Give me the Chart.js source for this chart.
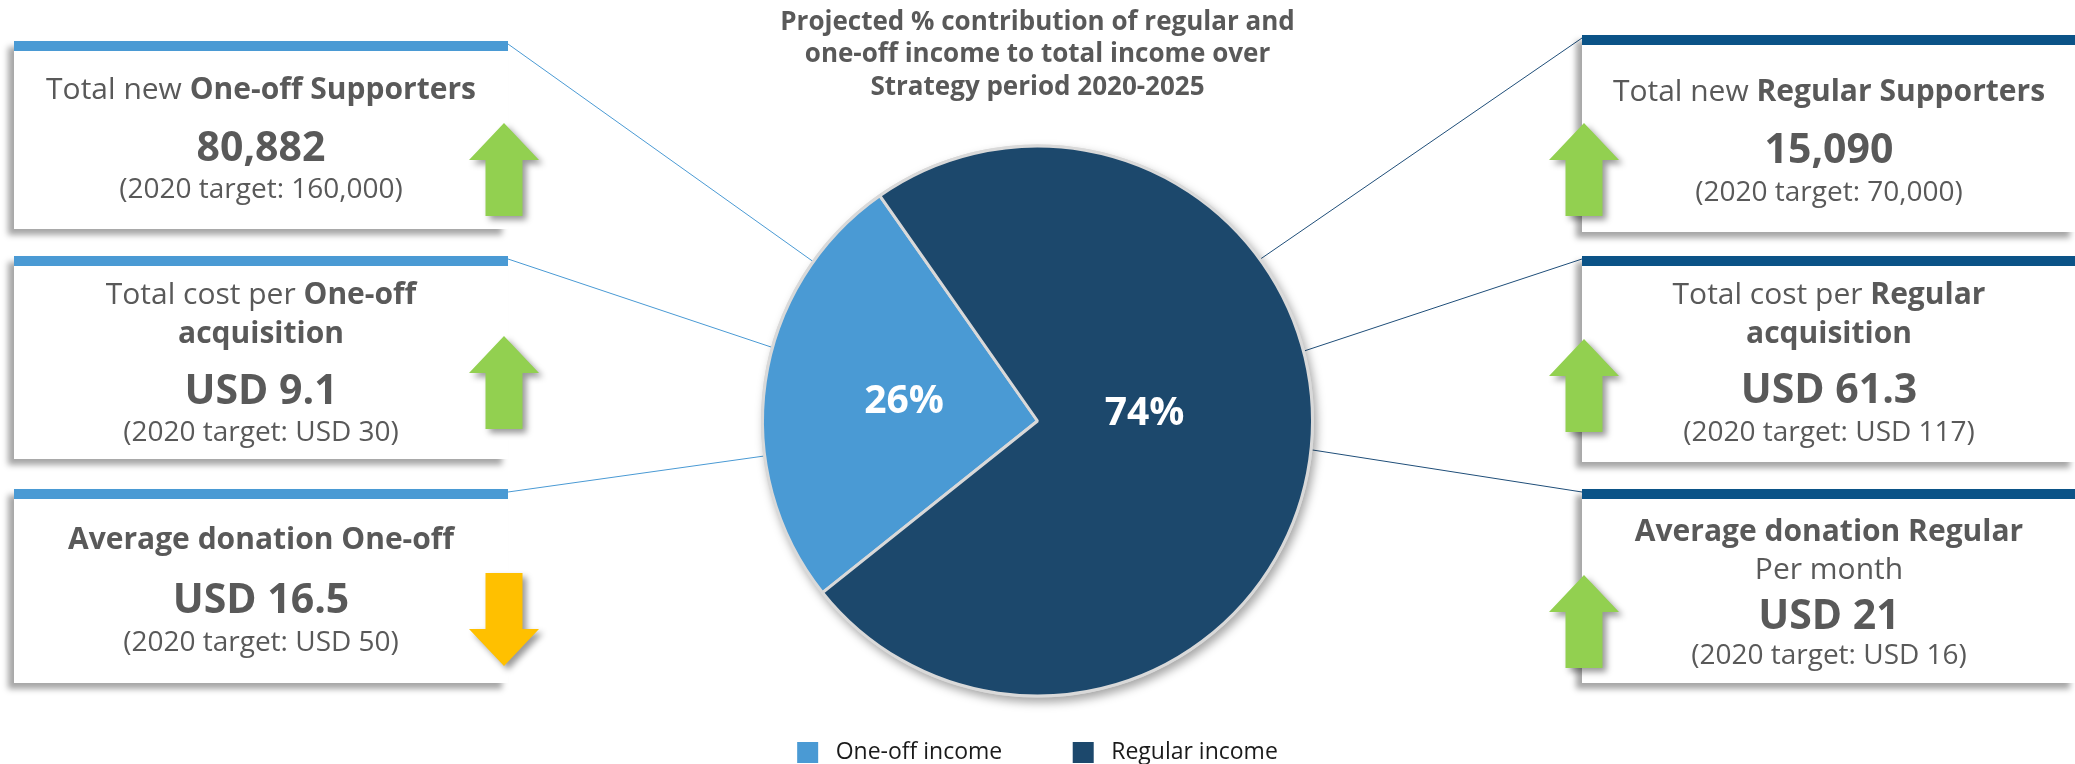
<!DOCTYPE html>
<html>
<head>
<meta charset="utf-8">
<script src="https://cdn.jsdelivr.net/npm/chart.js@4.4.0/dist/chart.umd.min.js"></script>
<style>
html, body { margin: 0; padding: 0; background: #fff; }
#wrap { position: relative; width: 2075px; height: 764px; overflow: hidden; font-family: "Open Sans", sans-serif; color: #595959; }
#myChart { position: absolute; left: 0; top: 0; }
.kpi { position: absolute; background: #fff; box-shadow: -6px 6px 6px rgba(0,0,0,0.35); }
.kpi .bar { position: absolute; left: 0; top: 0; right: 0; height: 10px; }
.kpi .ln { position: absolute; left: 0; right: 0; text-align: center; white-space: nowrap; transform: translateY(-50%); }
.t { font-size: 30px; line-height: 36px; }
.v { font-size: 41px; font-weight: 700; line-height: 48px; }
.g { font-size: 28px; line-height: 34px; }
b { font-weight: 700; }
.arrow { position: absolute; filter: drop-shadow(4px 4px 3px rgba(0,0,0,0.4)); }
</style>
</head>
<body>
<div id="wrap">
  <canvas id="myChart" width="2075" height="774"></canvas>
</div>
<script>
// pie data
const categories = ['One-off income', 'Regular income'];
const shares = [26, 74];
const titleLines = [
    'Projected % contribution of regular and',
    'one-off income to total income over',
    'Strategy period 2020-2025'
];

// KPI boxes: [regular part, bold part] per line
const kpiTitles = [
    [['Total new ', 'One-off Supporters']],
    [['Total cost per ', 'One-off'], ['', 'acquisition']],
    [['', 'Average donation One-off']],
    [['Total new ', 'Regular Supporters']],
    [['Total cost per ', 'Regular'], ['', 'acquisition']],
    [['', 'Average donation Regular'], ['Per month', '']]
];
const kpiValues = ['80,882', 'USD 9.1', 'USD 16.5', '15,090', 'USD 61.3', 'USD 21'];
const kpiTargets = ['160,000', 'USD 30', 'USD 50', '70,000', 'USD 117', 'USD 16'];
const kpiTrend = ['up', 'up', 'down', 'up', 'up', 'up'];

// layout
const sliceColors = ['#4a9ad4', '#1c486c'];
const leftBar = '#4a9ad4';
const rightBar = '#0b5387';
const boxes = [
    { x: 14, y: 41, w: 494, h: 188, lines: [47, 104, 146], angle: 305.4, arrowTop: 123 },
    { x: 14, y: 256, w: 494, h: 203, lines: [37, 76, 132, 174], angle: 285.5, arrowTop: 336 },
    { x: 14, y: 489, w: 494, h: 194, lines: [49, 108, 151], angle: 262.7, arrowTop: 573 },
    { x: 1582, y: 35, w: 494, h: 197, lines: [55, 112, 155], angle: 54, arrowTop: 123 },
    { x: 1582, y: 256, w: 494, h: 206, lines: [37, 76, 131, 174], angle: 75.3, arrowTop: 339 },
    { x: 1582, y: 489, w: 494, h: 194, lines: [41, 79, 124, 164], angle: 96, arrowTop: 575 }
];
const labelPos = [{ r: 0.49, turn: 0 }, { r: 0.39, turn: -12 }];

const wrap = document.getElementById('wrap');
const upArrow = '35,0 70,37 53.5,37 53.5,93 16.5,93 16.5,37 0,37';
const downArrow = '16.5,0 53.5,0 53.5,56 70,56 35,93 0,56 16.5,56';

boxes.forEach((b, i) => {
    const isLeft = b.x < 1000;
    const el = document.createElement('div');
    el.className = 'kpi';
    el.style.cssText = `left:${b.x}px;top:${b.y}px;width:${b.w}px;height:${b.h}px`;
    const rows = [];
    kpiTitles[i].forEach(seg => {
        rows.push({ cls: 't', html: seg[0] + (seg[1] ? '<b>' + seg[1] + '</b>' : '') });
    });
    rows.push({ cls: 'v', html: kpiValues[i] });
    rows.push({ cls: 'g', html: '(2020 target: ' + kpiTargets[i] + ')' });
    let html = `<div class="bar" style="background:${isLeft ? leftBar : rightBar}"></div>`;
    rows.forEach((r, k) => {
        html += `<div class="ln ${r.cls}" style="top:${b.lines[k]}px">${r.html}</div>`;
    });
    el.innerHTML = html;
    wrap.appendChild(el);

    const ax = isLeft ? b.x + b.w - 39 : b.x - 33;
    const up = kpiTrend[i] === 'up';
    const svg = document.createElementNS('http://www.w3.org/2000/svg', 'svg');
    svg.setAttribute('class', 'arrow');
    svg.setAttribute('width', 70);
    svg.setAttribute('height', 93);
    svg.style.left = ax + 'px';
    svg.style.top = b.arrowTop + 'px';
    svg.innerHTML = `<polygon points="${up ? upArrow : downArrow}" fill="${up ? '#92d050' : '#ffc000'}"/>`;
    wrap.appendChild(svg);
});

function toCanvasAngle(deg) {
    return (deg - 90) * Math.PI / 180;
}

const connectorPlugin = {
    id: 'connectors',
    beforeDatasetsDraw(chart) {
        const arc = chart.getDatasetMeta(0).data[0];
        const c = chart.ctx;
        c.save();
        c.lineWidth = 1;
        boxes.forEach(b => {
            const isLeft = b.x < 1000;
            const sx = isLeft ? b.x + b.w : b.x;
            const sy = b.y + 3;
            const a = toCanvasAngle(b.angle);
            c.strokeStyle = isLeft ? '#4a9ad4' : '#1f4e79';
            c.beginPath();
            c.moveTo(sx, sy);
            c.lineTo(arc.x + Math.cos(a) * arc.outerRadius, arc.y + Math.sin(a) * arc.outerRadius);
            c.stroke();
        });
        c.restore();
    }
};

const shadowPlugin = {
    id: 'pieShadow',
    beforeDatasetsDraw(chart) {
        const arc = chart.getDatasetMeta(0).data[0];
        const c = chart.ctx;
        c.save();
        c.shadowColor = 'rgba(0,0,0,0.35)';
        c.shadowBlur = 10;
        c.shadowOffsetX = 3;
        c.shadowOffsetY = 5;
        c.fillStyle = '#d9d9d9';
        c.beginPath();
        c.arc(arc.x, arc.y, arc.outerRadius + 1.5, 0, Math.PI * 2);
        c.fill();
        c.restore();
    }
};

const labelPlugin = {
    id: 'sliceLabels',
    afterDatasetsDraw(chart) {
        const c = chart.ctx;
        const meta = chart.getDatasetMeta(0);
        c.save();
        c.fillStyle = '#ffffff';
        c.font = 'bold 39px "Open Sans"';
        c.textAlign = 'center';
        c.textBaseline = 'middle';
        meta.data.forEach((arc, i) => {
            const mid = (arc.startAngle + arc.endAngle) / 2 + labelPos[i].turn * Math.PI / 180;
            const r = arc.outerRadius * labelPos[i].r;
            c.fillText(shares[i] + '%', arc.x + Math.cos(mid) * r, arc.y + Math.sin(mid) * r);
        });
        c.restore();
    }
};

const ctx = document.getElementById('myChart').getContext('2d');
const baseLabels = Chart.overrides.doughnut.plugins.legend.labels.generateLabels;

const pieChart = new Chart(ctx, {
    type: 'pie',
    data: {
        labels: categories,
        datasets: [{
            data: shares,
            backgroundColor: sliceColors,
            borderColor: '#d9d9d9',
            borderWidth: 3,
            hoverOffset: 0,
            radius: 275
        }]
    },
    options: {
        responsive: false,
        animation: false,
        rotation: 231.4,
        layout: { padding: 0 },
        events: [],
        plugins: {
            title: {
                display: true,
                text: titleLines,
                color: '#595959',
                font: { family: 'Open Sans', size: 26, weight: 'bold', lineHeight: 1.25 },
                padding: { top: 6, bottom: 68 }
            },
            legend: {
                position: 'bottom',
                labels: {
                    boxWidth: 21,
                    boxHeight: 21,
                    padding: 70.5,
                    color: '#1a1a1a',
                    font: { family: 'Open Sans', size: 23 },
                    generateLabels: chart => baseLabels(chart).map(l => ({ ...l, text: ' ' + l.text, lineWidth: 0 }))
                }
            },
            tooltip: { enabled: false }
        }
    },
    plugins: [connectorPlugin, shadowPlugin, labelPlugin]
});
</script>
</body>
</html>
